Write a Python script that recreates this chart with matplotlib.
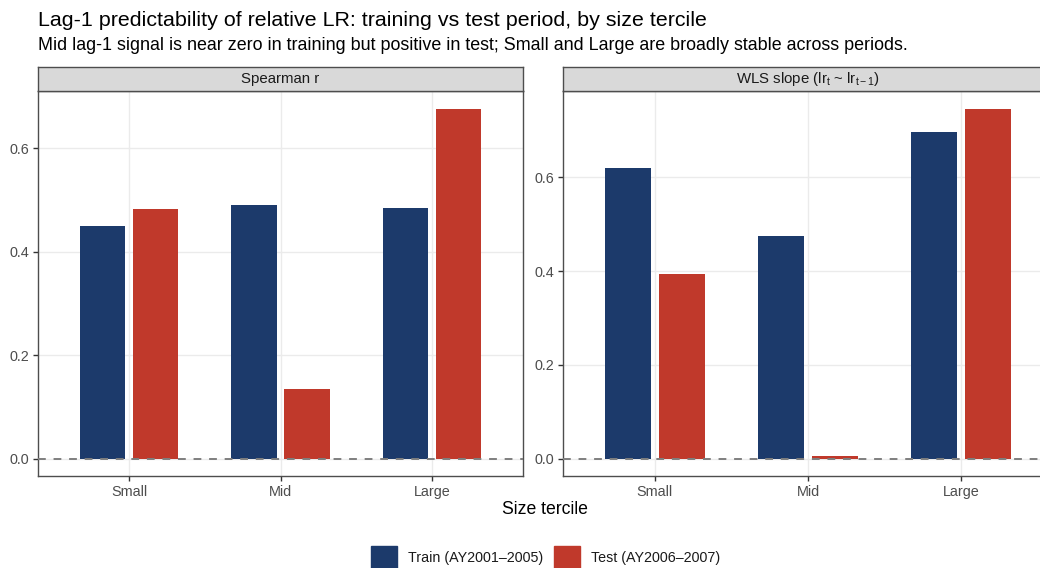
import matplotlib
matplotlib.use("Agg")
import matplotlib.pyplot as plt
import numpy as np
from matplotlib.patches import Rectangle

plt.rcParams['font.family'] = ['Liberation Sans', 'DejaVu Sans']
plt.rcParams['mathtext.fontset'] = 'custom'
plt.rcParams['mathtext.rm'] = 'Liberation Sans'
plt.rcParams['mathtext.it'] = 'Liberation Sans'

categories = ["Small", "Mid", "Large"]
series = ["Train (AY2001\u20132005)", "Test (AY2006\u20132007)"]
spearman_train = [0.450, 0.490, 0.484]
spearman_test = [0.482, 0.135, 0.677]
wls_train = [0.619, 0.474, 0.696]
wls_test = [0.393, 0.006, 0.747]
panel_titles = ["Spearman r", "WLS slope (lr$_{\\mathrm{t}}$ ~ lr$_{\\mathrm{t-1}}$)"]
colors = ["#1C3A6B", "#C0392B"]

W, H = 1040, 568
fig = plt.figure(figsize=(W/100, H/100), dpi=100)

def fx(px): return px / W
def fy(py): return 1 - py / H

panels = [
    dict(x0=38, x1=523, train=spearman_train, test=spearman_test),
    dict(x0=563, x1=1053, train=wls_train, test=wls_test),
]

top, bottom = 91, 476
strip_top = 67

for i, p in enumerate(panels):
    ax = fig.add_axes([fx(p['x0']), fy(bottom), fx(p['x1']-p['x0']), (bottom-top)/H])
    x = np.arange(1, len(categories)+1)
    ax.bar(x - 0.175, p['train'], width=0.3, color=colors[0], zorder=2)
    ax.bar(x + 0.175, p['test'], width=0.3, color=colors[1], zorder=2)
    ax.axhline(0, color='#7F7F7F', linestyle=(0, (4, 4)), linewidth=1.4, zorder=3)
    ax.set_xlim(0.4, 3.6)
    mx = max(max(p['train']), max(p['test']))
    ax.set_ylim(-0.05*mx, 1.05*mx)
    ax.set_xticks(x)
    ax.set_xticklabels(categories)
    ax.set_yticks([0.0, 0.2, 0.4, 0.6])
    ax.set_yticklabels(["0.0", "0.2", "0.4", "0.6"])
    ax.grid(True, color='#EBEBEB', linewidth=1.0, zorder=0)
    ax.set_axisbelow(True)
    ax.tick_params(axis='both', length=3.5, width=1.0, color='#333333',
                   labelcolor='#4D4D4D', labelsize=10.4, pad=3)
    for s in ax.spines.values():
        s.set_color('#4D4D4D')
        s.set_linewidth(1.0)
    # strip
    sax = fig.add_axes([fx(p['x0']), fy(top), fx(p['x1']-p['x0']), (top-strip_top)/H])
    sax.set_facecolor('#D9D9D9')
    sax.set_xticks([]); sax.set_yticks([])
    for s in sax.spines.values():
        s.set_color('#4D4D4D')
        s.set_linewidth(1.0)
    sax.text(0.5, 0.5, panel_titles[i], ha='center', va='center',
             fontsize=10.8, color='#1A1A1A', transform=sax.transAxes)

fig.text(fx(38), fy(20), "Lag-1 predictability of relative LR: training vs test period, by size tercile",
         fontsize=15.4, color='black', ha='left', va='center')
fig.text(fx(38), fy(46), "Mid lag-1 signal is near zero in training but positive in test; Small and Large are broadly stable across periods.",
         fontsize=12.9, color='black', ha='left', va='center')
fig.text(fx(545), fy(509), "Size tercile", fontsize=12.7, ha='center', va='center')

# legend (manual layout)
leg_x = [371, 554]
for xs, c, lab in zip(leg_x, colors, series):
    fig.add_artist(Rectangle((fx(xs), fy(572)), fx(26), 26/H, color=c, transform=fig.transFigure))
    fig.text(fx(xs + 37), fy(558), lab, fontsize=10.3, color='#1A1A1A', ha='left', va='center')

fig.savefig("out.png", dpi=100)
